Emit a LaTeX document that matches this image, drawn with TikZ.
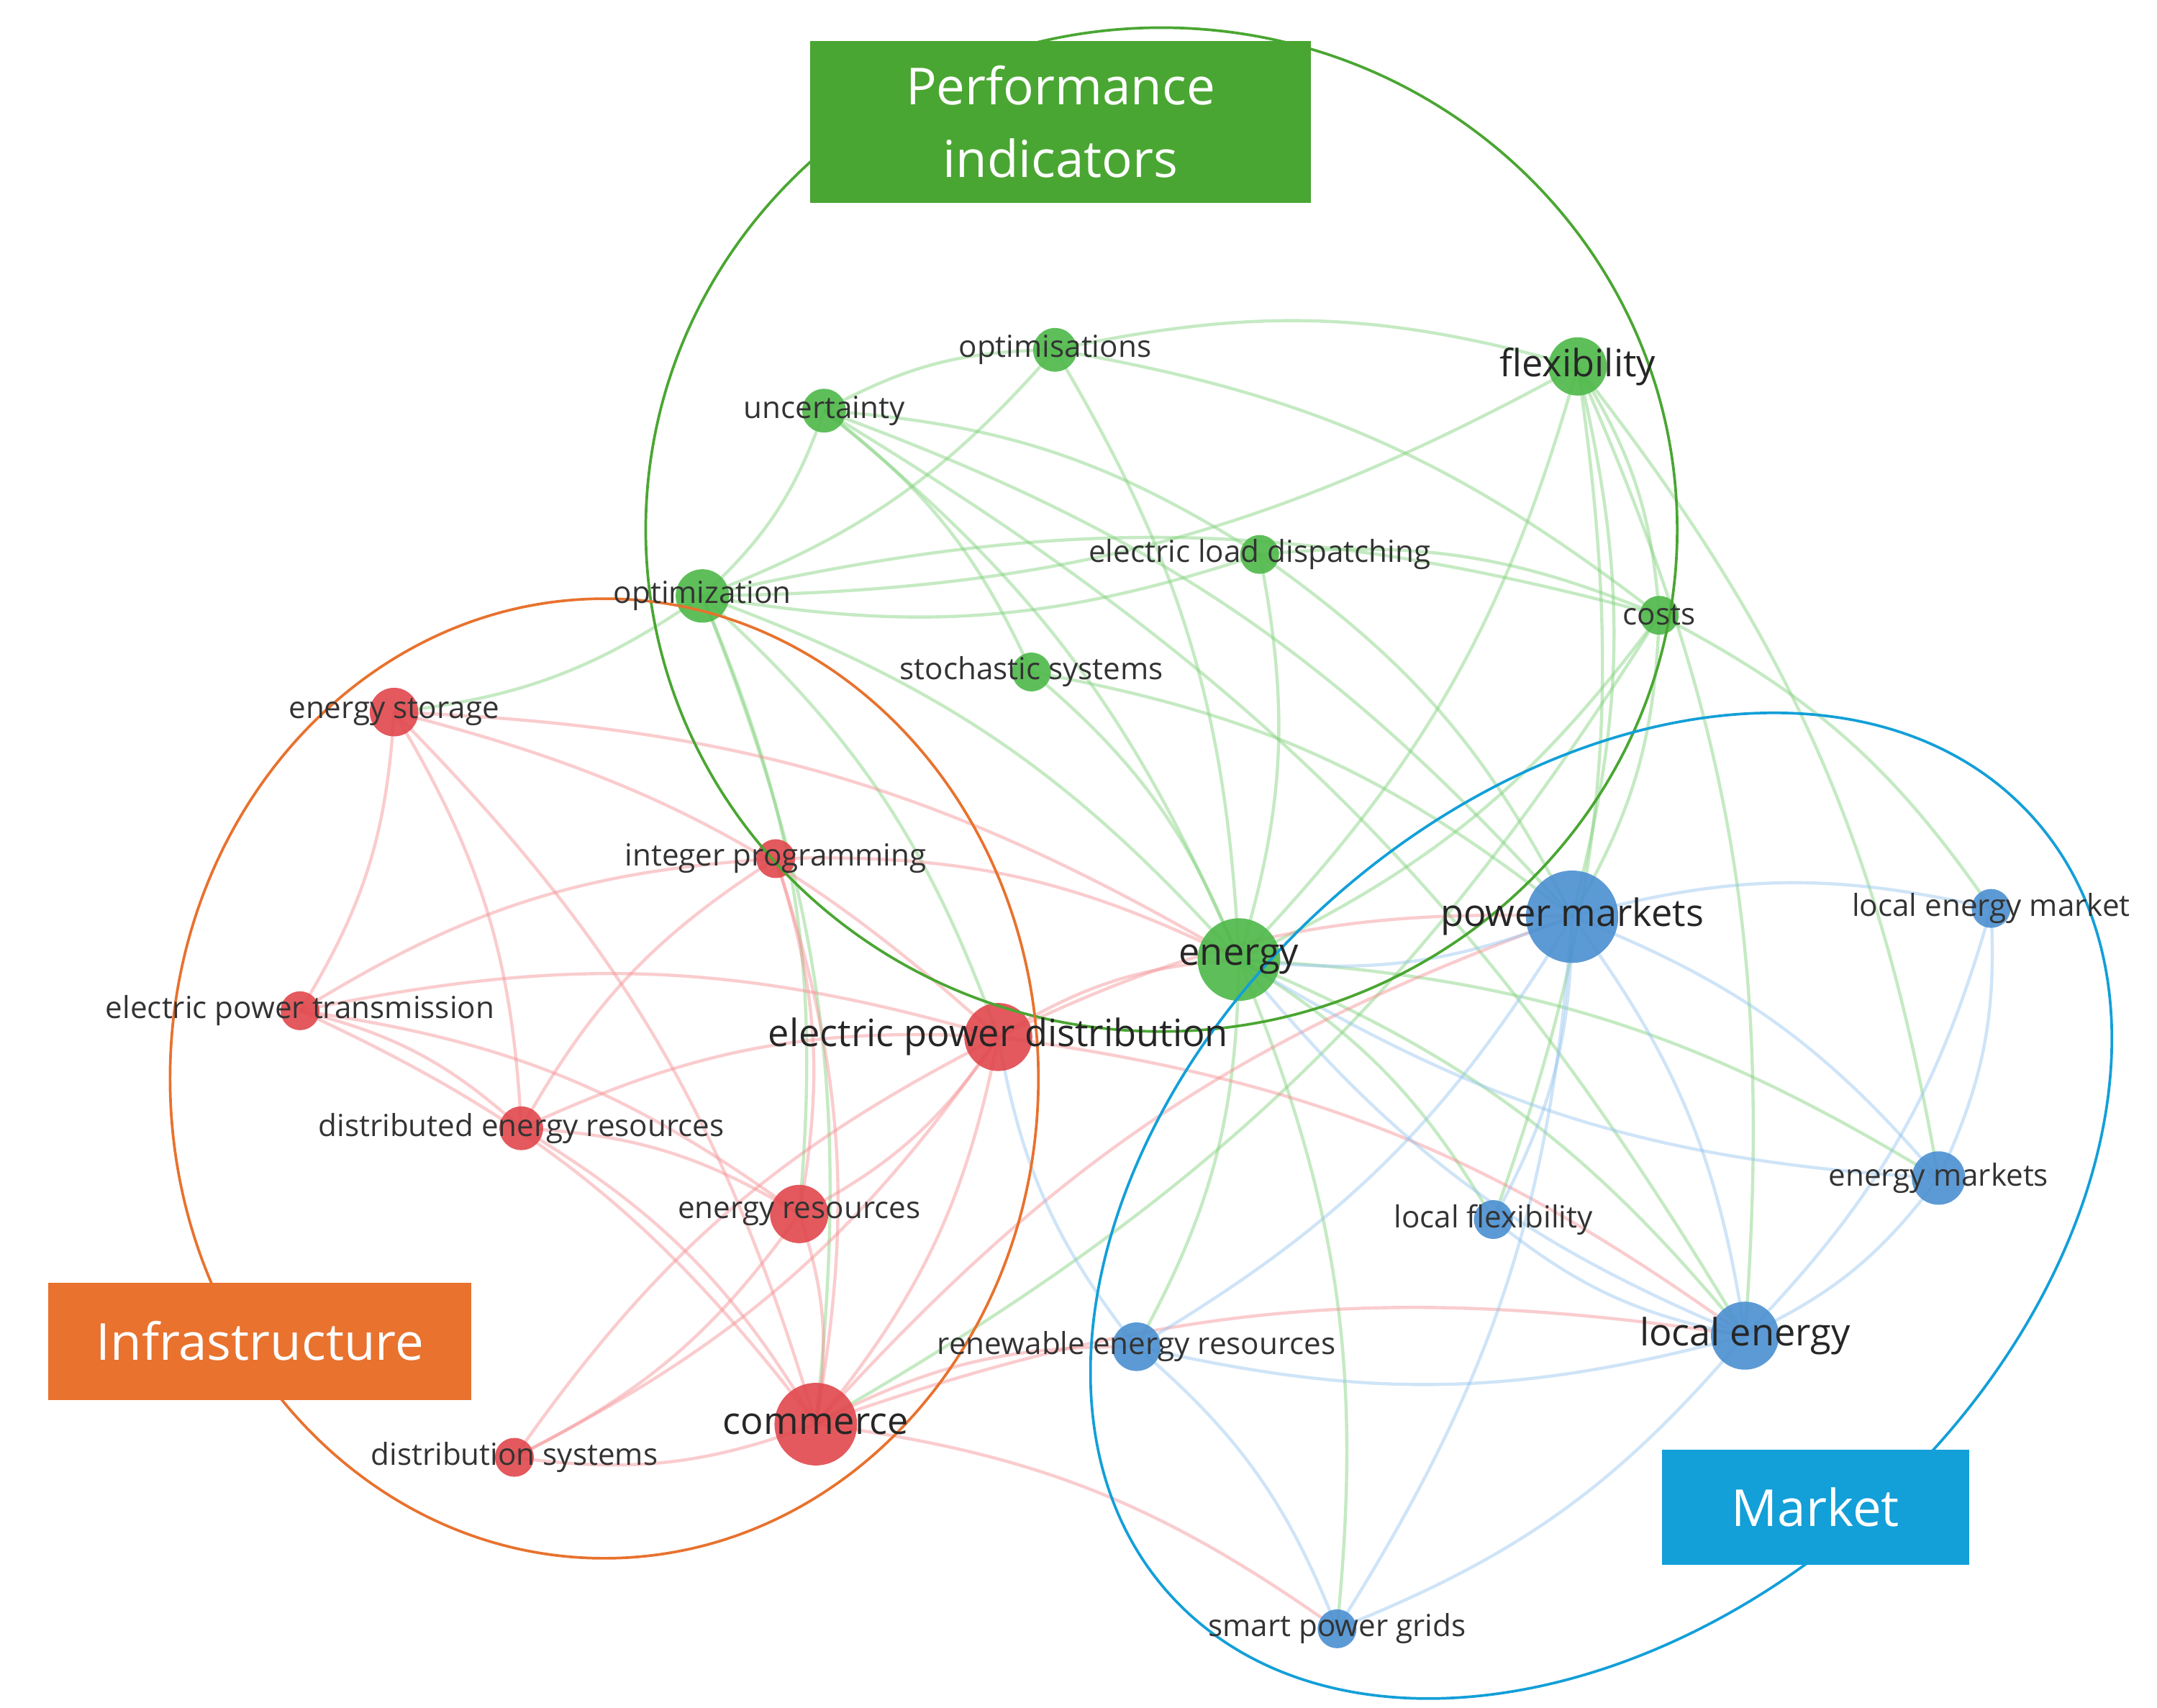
\documentclass[tikz,border=0pt]{standalone}
\usepackage{fontspec}
\setmainfont{Open Sans}
\usetikzlibrary{shapes.geometric}
\definecolor{grn}{HTML}{4DB848}
\definecolor{red}{HTML}{E0474C}
\definecolor{blu}{HTML}{4A8FD0}
\definecolor{grnE}{HTML}{7FD07A}
\definecolor{redE}{HTML}{F38F92}
\definecolor{bluE}{HTML}{94C3EE}
\definecolor{orgC}{HTML}{E8722E}
\definecolor{bluC}{HTML}{139FD8}
\definecolor{grnC}{HTML}{4AA632}
\tikzset{
  x=0.02cm, y=-0.02cm,
  kw/.style={circle, inner sep=0pt, minimum size=#1, opacity=0.9},
  lab/.style={font=\fontsize{12.5}{13}\selectfont, text=black!80},
  labB/.style={font=\fontsize{15.5}{16}\selectfont, text=black!85},
  lnk/.style={line width=1.3pt, opacity=0.45, bend left=14},
  box/.style={inner sep=0pt, text=white, align=center, font=\fontsize{21}{30}\selectfont}
}
\begin{document}
\begin{tikzpicture}
\useasboundingbox (0,0) rectangle (1560,1235);
% keyword positions
\foreach \n/\px/\py in {opts/763/253, unc/596/297, flex/1141/265, eld/911/401,
  optz/508/431, costs/1200/445, stoch/746/486, estor/285/515, intp/561/621,
  pm/1137/663, lem/1440/657, en/896/694, ept/217/731, epd/722/750,
  der/377/816, em/1402/852, lf/1080/882, er/578/878, le/1262/966,
  rer/822/974, com/590/1030, ds/372/1054, spg/967/1178}
  \coordinate (\n) at (\px,\py);
% links
\foreach \a/\b in {unc/optz, unc/opts, unc/en, unc/pm, unc/stoch, unc/eld, unc/le,
  opts/optz, opts/flex, opts/costs, opts/en, flex/en, flex/pm, flex/le, flex/em,
  flex/costs, flex/optz, flex/lf, eld/en, eld/pm, eld/optz, eld/costs, optz/en,
  optz/epd, optz/com, optz/er, optz/estor, optz/costs, costs/pm, costs/en,
  costs/lem, costs/com, stoch/en, stoch/pm, en/em, en/le, en/rer, en/spg, en/lf}
  \draw[lnk, grnE] (\a) to (\b);
\foreach \a/\b in {estor/ept, estor/epd, estor/com, estor/der, estor/en, ept/epd,
  ept/der, ept/er, ept/com, ept/intp, der/epd, der/er, der/com, der/intp, intp/er,
  intp/com, intp/en, epd/er, epd/com, epd/ds, epd/en, epd/pm, epd/le, er/com,
  er/ds, com/ds, com/le, com/spg, com/pm, com/rer, ds/epd}
  \draw[lnk, redE] (\a) to (\b);
\foreach \a/\b in {pm/lem, pm/em, pm/le, pm/lf, pm/rer, pm/spg, pm/en, lem/em,
  lem/le, em/le, le/rer, le/spg, le/lf, le/en, rer/spg, rer/epd, em/en}
  \draw[lnk, bluE] (\a) to (\b);
% keyword circles
\foreach \n/\s/\c in {opts/18pt/grn, unc/18pt/grn, flex/24pt/grn, eld/16pt/grn,
  optz/22pt/grn, costs/16pt/grn, stoch/16pt/grn, en/34pt/grn,
  estor/20pt/red, intp/16pt/red, ept/16pt/red, epd/28pt/red, der/18pt/red,
  er/24pt/red, com/34pt/red, ds/16pt/red,
  pm/38pt/blu, lem/16pt/blu, em/22pt/blu, lf/16pt/blu, le/28pt/blu,
  rer/20pt/blu, spg/16pt/blu}
  \node[kw=\s, fill=\c] at (\n) {};
% cluster outlines
\draw[grnC, line width=1.1pt] (840,383) ellipse [x radius=373, y radius=363];
\draw[orgC, line width=1.1pt] (437,780) ellipse [x radius=314, y radius=347];
\draw[bluC, line width=1.1pt, rotate around={42:(1158,872)}] (1158,872) ellipse [x radius=420, y radius=295];
% labels
\foreach \n/\t in {opts/optimisations, unc/uncertainty, eld/electric load dispatching,
  costs/costs, stoch/stochastic systems, estor/energy storage, intp/integer programming,
  lem/local energy market, ept/electric power transmission, der/distributed energy resources,
  em/energy markets, lf/local flexibility, rer/renewable energy resources,
  ds/distribution systems, spg/smart power grids, optz/optimization, er/energy resources}
  \node[lab] at (\n) {\t};
\foreach \n/\t in {flex/flexibility, pm/power markets, en/energy,
  epd/electric power distribution, le/local energy, com/commerce}
  \node[labB] at (\n) {\t};
% group boxes
\node[box, fill=grnC, minimum width=7.24cm, minimum height=2.34cm] (perf) at (767,88) {Performance\\indicators};
\node[box, fill=orgC, minimum width=6.12cm, minimum height=1.7cm] (infra) at (188,970) {Infrastructure};
\node[box, fill=bluC, minimum width=4.44cm, minimum height=1.66cm] (mkt) at (1313,1090) {Market};
\end{tikzpicture}
\end{document}
